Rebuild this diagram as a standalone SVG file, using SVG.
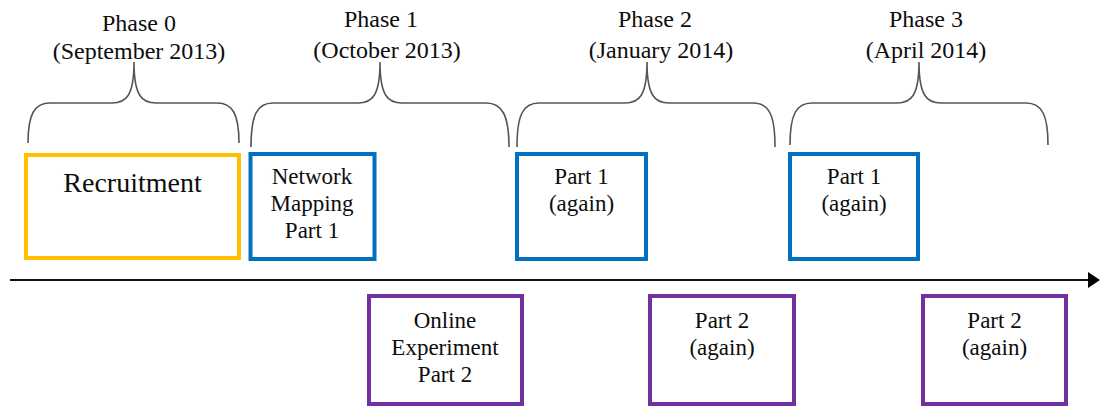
<svg xmlns="http://www.w3.org/2000/svg" width="1100" height="407" viewBox="0 0 1100 407" font-family="'Liberation Serif', 'Times New Roman', 'DejaVu Serif', serif">
<style>
text{font-family:'Liberation Serif','Times New Roman','DejaVu Serif',serif;fill:#0d0d0d;text-anchor:middle}
.ph{font-size:24px}
.bx{font-size:23px}
.brace{fill:none;stroke:#555;stroke-width:1.6}
.y{fill:#fff;stroke:#FFC000;stroke-width:4}
.b{fill:#fff;stroke:#0070C0;stroke-width:4}
.p{fill:#fff;stroke:#7030A0;stroke-width:4}
</style>
<rect width="1100" height="407" fill="#fff"/>
<g id="phase0">
<text class="ph" x="139" y="31">Phase 0</text>
<text class="ph" x="139" y="59">(September 2013)</text>
<path class="brace" d="M28,143 C28,115 34,103 50,103 L112,103 C126,103 134,96 134,62 C134,96 142,103 156,103 L217,103 C233,103 239,115 239,143"/>
</g>
<g id="phase1">
<text class="ph" x="381" y="27">Phase 1</text>
<text class="ph" x="387" y="58">(October 2013)</text>
<path class="brace" d="M251,147 C251,115 257,103 273,103 L358,103 C372,103 380,96 380,62 C380,96 388,103 402,103 L486,103 C502,103 509,115 509,147"/>
</g>
<g id="phase2">
<text class="ph" x="655" y="27">Phase 2</text>
<text class="ph" x="661" y="58">(January 2014)</text>
<path class="brace" d="M517,147 C517,115 523,103 539,103 L625,103 C639,103 647,96 647,62 C647,96 655,103 669,103 L753,103 C769,103 775,115 775,147"/>
</g>
<g id="phase3">
<text class="ph" x="926" y="27">Phase 3</text>
<text class="ph" x="926" y="58">(April 2014)</text>
<path class="brace" d="M790,145 C790,115 796,103 812,103 L897,103 C911,103 919,96 919,62 C919,96 927,103 941,103 L1026,103 C1042,103 1048,115 1048,145"/>
</g>
<g id="recruitment">
<rect class="y" x="26" y="155" width="213" height="103"/>
<text x="132.5" y="192" font-size="28">Recruitment</text>
</g>
<g id="network-mapping">
<rect class="b" x="250.5" y="154" width="124" height="105"/>
<text class="bx" x="312" y="184">Network</text>
<text class="bx" x="312" y="211">Mapping</text>
<text class="bx" x="312" y="238">Part 1</text>
</g>
<g id="part1-again-p2">
<rect class="b" x="517" y="154" width="129" height="105"/>
<text class="bx" x="581.5" y="184">Part 1</text>
<text class="bx" x="581.5" y="211">(again)</text>
</g>
<g id="part1-again-p3">
<rect class="b" x="790" y="154" width="128" height="105"/>
<text class="bx" x="854" y="184">Part 1</text>
<text class="bx" x="854" y="211">(again)</text>
</g>
<g id="online-experiment">
<rect class="p" x="369" y="296" width="153" height="108"/>
<text class="bx" x="445" y="328">Online</text>
<text class="bx" x="445" y="355">Experiment</text>
<text class="bx" x="445" y="382">Part 2</text>
</g>
<g id="part2-again-p2">
<rect class="p" x="650" y="296" width="144" height="108"/>
<text class="bx" x="722" y="328">Part 2</text>
<text class="bx" x="722" y="355">(again)</text>
</g>
<g id="part2-again-p3">
<rect class="p" x="923" y="296" width="143" height="108"/>
<text class="bx" x="994.5" y="328">Part 2</text>
<text class="bx" x="994.5" y="355">(again)</text>
</g>
<g id="connectors">
<line x1="10" y1="280" x2="1090" y2="280" stroke="#111" stroke-width="2"/>
<polygon points="1088,272 1100,280 1088,288" fill="#000"/>
</g>
</svg>
